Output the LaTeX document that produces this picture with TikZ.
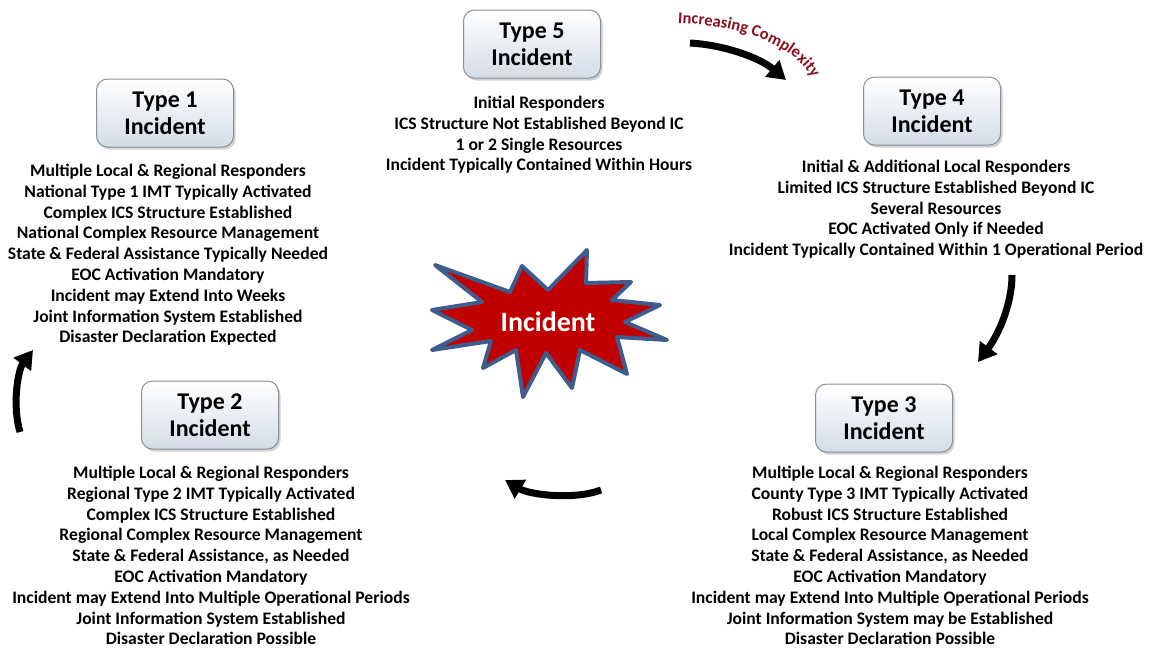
\documentclass[tikz,border=0pt]{standalone}
\usepackage{fontspec}
\setmainfont{Carlito}
\usetikzlibrary{arrows.meta,shadows,decorations.text}
\definecolor{starred}{HTML}{C00000}
\definecolor{starblue}{HTML}{3E5D8C}
\definecolor{boxbot}{HTML}{D3DCE6}
\definecolor{boxline}{HTML}{8A8F96}
\definecolor{cplx}{HTML}{8C1020}
\begin{document}
\begin{tikzpicture}[x=1pt,y=-1pt,
  typebox/.style={draw=boxline, line width=1pt, rounded corners=11pt, top color=white, bottom color=boxbot,
    minimum width=137pt, minimum height=68pt, align=center, font=\fontsize{24}{27}\selectfont\bfseries,
    drop shadow={shadow xshift=2pt, shadow yshift=-2.5pt, opacity=0.35}},
  listtext/.style={align=center, inner sep=0pt, anchor=north, font=\fontsize{17.6}{20.8}\selectfont\bfseries},
  flowarrow/.style={line width=7pt, -{Triangle[length=18pt,width=21pt]}}]
\useasboundingbox (0,0) rectangle (1153,649);
\fill[white] (0,0) rectangle (1153,649);

% star
\filldraw[fill=starred, draw=starblue, line width=4pt, line join=round]
 (435,265) -- (510,292) -- (522,266) -- (548,290) -- (587,250) -- (586,283) -- (631,282) -- (612,300)
 -- (660,305) -- (625,322) -- (667,340) -- (617,337) -- (627,374) -- (580,350) -- (572,388) -- (546,353)
 -- (523,397) -- (516,350) -- (483,368) -- (491,341) -- (432,350) -- (472,330) -- (432,310) -- (482,302) -- cycle;
\node[text=white, font=\fontsize{28}{28}\selectfont\bfseries] (star) at (548,322) {Incident};

% type boxes
\node[typebox] (t5) at (532,44) {Type 5\\Incident};
\node[typebox] (t1) at (165,113) {Type 1\\Incident};
\node[typebox] (t4) at (932,111) {Type 4\\Incident};
\node[typebox] (t2) at (210,415) {Type 2\\Incident};
\node[typebox] (t3) at (884,418) {Type 3\\Incident};

% lists
\node[listtext] (l5) at (539,96) {Initial Responders\\ICS Structure Not Established Beyond IC\\1 or 2 Single Resources\\Incident Typically Contained Within Hours};
\node[listtext] (l1) at (168,164) {Multiple Local \& Regional Responders\\National Type 1 IMT Typically Activated\\Complex ICS Structure Established\\National Complex Resource Management\\State \& Federal Assistance Typically Needed\\EOC Activation Mandatory\\Incident may Extend Into Weeks\\Joint Information System Established\\Disaster Declaration Expected};
\node[listtext] (l4) at (936,160) {Initial \& Additional Local Responders\\Limited ICS Structure Established Beyond IC\\Several Resources\\EOC Activated Only if Needed\\Incident Typically Contained Within 1 Operational Period};
\node[listtext] (l2) at (211,466) {Multiple Local \& Regional Responders\\Regional Type 2 IMT Typically Activated\\Complex ICS Structure Established\\Regional Complex Resource Management\\State \& Federal Assistance, as Needed\\EOC Activation Mandatory\\Incident may Extend Into Multiple Operational Periods\\Joint Information System Established\\Disaster Declaration Possible};
\node[listtext] (l3) at (890,466) {Multiple Local \& Regional Responders\\County Type 3 IMT Typically Activated\\Robust ICS Structure Established\\Local Complex Resource Management\\State \& Federal Assistance, as Needed\\EOC Activation Mandatory\\Incident may Extend Into Multiple Operational Periods\\Joint Information System may be Established\\Disaster Declaration Possible};

% arrows
\coordinate (a1s) at (690,43); \coordinate (a1e) at (786,80);
\coordinate (a2s) at (1012,275); \coordinate (a2e) at (978,362);
\coordinate (a3s) at (601,490); \coordinate (a3e) at (505,480);
\coordinate (a4s) at (20,432); \coordinate (a4e) at (33,350);
\draw[flowarrow] (a1s) .. controls (725,45) and (760,58) .. (a1e);
\draw[flowarrow] (a2s) .. controls (1012,305) and (998,335) .. (a2e);
\draw[flowarrow] (a3s) .. controls (575,500) and (530,495) .. (a3e);
\draw[flowarrow] (a4s) .. controls (12,405) and (18,370) .. (a4e);

% increasing complexity
\path[decorate, decoration={text along path, text align=center,
  text={|\fontsize{16.5}{16.5}\selectfont\bfseries\color{cplx}|Increasing Complexity}}]
  (674,23) .. controls (735,25) and (795,42) .. (814,82);
\end{tikzpicture}
\end{document}
